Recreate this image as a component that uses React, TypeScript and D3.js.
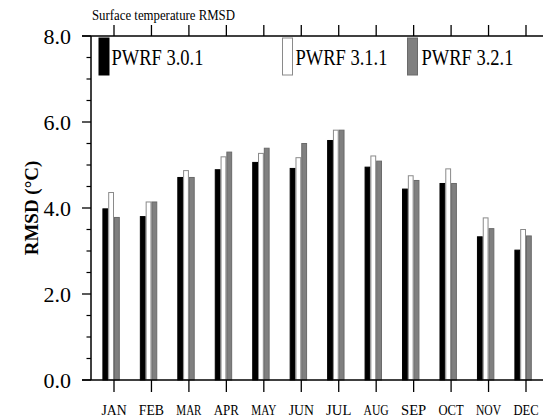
import React from "react";
import * as d3 from "d3";

const months = ["JAN", "FEB", "MAR", "APR", "MAY", "JUN", "JUL", "AUG", "SEP", "OCT", "NOV", "DEC"];
const pwrf301 = [3.98, 3.8, 4.71, 4.89, 5.06, 4.92, 5.57, 4.95, 4.44, 4.57, 3.33, 3.02];
const pwrf311 = [4.36, 4.14, 4.87, 5.19, 5.27, 5.17, 5.81, 5.21, 4.75, 4.91, 3.77, 3.5];
const pwrf321 = [3.78, 4.14, 4.71, 5.3, 5.39, 5.5, 5.81, 5.09, 4.64, 4.57, 3.52, 3.35];
const seriesNames = ["PWRF 3.0.1", "PWRF 3.1.1", "PWRF 3.2.1"];
const yMajorTicks = [0, 2, 4, 6, 8];
const titleText = "Surface temperature RMSD";
const yLabel = "RMSD (°C)";

const W = 543;
const H = 417;
const axisX = 91;
const axisTop = 36;
const axisBottom = 380;
const FONT = '"Liberation Serif", monospace';

export default function App() {
  const x = d3.scaleLinear().domain([0, 11]).range([114, 526]);
  const y = d3.scaleLinear().domain([0, 8]).range([axisBottom, axisTop]);
  const minorTicks = d3.range(0, 8.01, 0.5).filter((v) => Math.abs(v % 2) > 1e-6);
  const bw = 5.8;
  const styles = [
    { fill: "#000000", stroke: "#000000" },
    { fill: "#ffffff", stroke: "#8a8a8a" },
    { fill: "#808080", stroke: "#6a6a6a" },
  ];
  const series = [pwrf301, pwrf311, pwrf321];
  const ts = { fontFamily: FONT } as React.CSSProperties;
  const legend = [
    { bx: 99, tx: 111.5 },
    { bx: 282.5, tx: 295.5 },
    { bx: 407.5, tx: 421.5 },
  ];

  return (
    <svg width={W} height={H} style={{ position: "absolute", left: 0, top: 0, background: "#fff" }}>
      <rect x={0} y={0} width={W} height={H} fill="#fff" />
      <text style={ts} x={92} y={20} fontSize={15} textLength={143} lengthAdjust="spacingAndGlyphs">
        {titleText}
      </text>

      {months.map((m, i) =>
        series.map((s, k) => {
          const x0 = x(i) - 2 * bw + k * bw;
          return (
            <rect
              key={m + k}
              x={x0 + 0.5}
              y={y(s[i])}
              width={bw - 1}
              height={axisBottom - y(s[i])}
              fill={styles[k].fill}
              stroke={styles[k].stroke}
              strokeWidth={1}
            />
          );
        })
      )}

      {legend.map((l, k) => (
        <g key={k}>
          <rect
            x={l.bx}
            y={38}
            width={10}
            height={37}
            fill={styles[k].fill}
            stroke={styles[k].stroke}
            strokeWidth={1}
          />
          <text style={ts} x={l.tx} y={64.5} fontSize={24} textLength={92} lengthAdjust="spacingAndGlyphs">
            {seriesNames[k]}
          </text>
        </g>
      ))}

      <line x1={axisX} x2={axisX} y1={axisTop} y2={axisBottom} stroke="#000" strokeWidth={1.5} />
      <line x1={axisX - 9} x2={W} y1={axisTop} y2={axisTop} stroke="#000" strokeWidth={1.5} />
      <line x1={axisX - 9} x2={W} y1={axisBottom} y2={axisBottom} stroke="#000" strokeWidth={1.5} />

      {yMajorTicks.map((t) => (
        <g key={t}>
          <line x1={axisX - 9} x2={axisX} y1={y(t)} y2={y(t)} stroke="#000" strokeWidth={1.3} />
          <text style={ts} x={71} y={y(t) + 8} fontSize={22} textAnchor="end">
            {t.toFixed(1)}
          </text>
        </g>
      ))}
      {minorTicks.map((t) => (
        <line key={t} x1={axisX - 4.5} x2={axisX} y1={y(t)} y2={y(t)} stroke="#000" strokeWidth={1.2} />
      ))}

      {months.map((m, i) => (
        <g key={m}>
          <line x1={x(i)} x2={x(i)} y1={axisBottom} y2={axisBottom + 12} stroke="#000" strokeWidth={1.3} />
          <line x1={x(i)} x2={x(i)} y1={axisTop} y2={axisTop - 11} stroke="#000" strokeWidth={1.3} />
          <text style={ts} x={x(i)} y={414.5} fontSize={14} textAnchor="middle" textLength={m.length * 8.4} lengthAdjust="spacingAndGlyphs">
            {m}
          </text>
        </g>
      ))}

      <text
        style={ts}
        transform={`translate(38, 208) rotate(-90)`}
        fontSize={19}
        fontWeight="bold"
        textAnchor="middle"
      >
        {yLabel}
      </text>
    </svg>
  );
}
